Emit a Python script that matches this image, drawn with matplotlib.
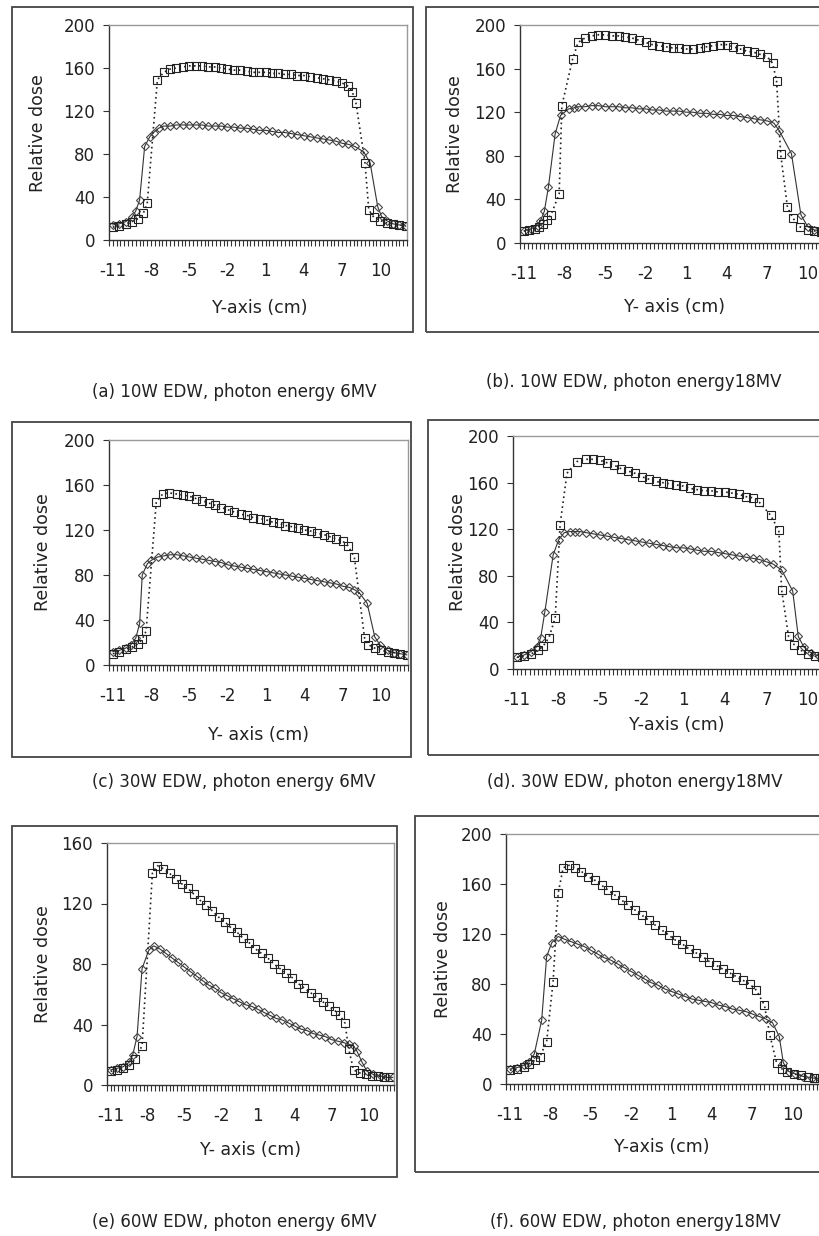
import numpy as np
import matplotlib.pyplot as plt
from matplotlib.patches import Rectangle

W, H = 819, 1236

X_TICKS = [-11, -8, -5, -2, 1, 4, 7, 10]
X_TICK_LABELS = ['-11', '-8', '-5', '-2', '1', '4', '7', '10']

# (a) 10W EDW, 6MV
a_sq_x = [-11, -10.5, -10, -9.5, -9, -8.6, -8.3, -7.5, -7, -6.5,
          -6, -5.5, -5, -4.5, -4, -3.5, -3, -2.5, -2, -1.5,
          -1, -0.5, 0, 0.5, 1, 1.5, 2, 2.5, 3, 3.5,
          4, 4.5, 5, 5.5, 6, 6.5, 7, 7.5, 7.8, 8.1,
          8.8, 9.1, 9.5, 10, 10.5, 11, 11.5, 12]
a_sq_y = [12, 13, 15, 17, 20, 25, 34, 149, 156, 159,
          160, 161, 162, 162, 162, 161, 161, 160, 159, 158,
          158, 157, 156, 156, 156, 155, 155, 154, 154, 153,
          153, 152, 151, 150, 149, 148, 146, 143, 138, 127,
          72, 28, 21, 18, 16, 15, 14, 13]
a_di_x = [-11, -10.5, -10, -9.5, -9.2, -8.9, -8.5, -8.1, -7.8, -7.4,
          -7, -6.5, -6, -5.5, -5, -4.5, -4, -3.5, -3, -2.5,
          -2, -1.5, -1, -0.5, 0, 0.5, 1, 1.5, 2, 2.5,
          3, 3.5, 4, 4.5, 5, 5.5, 6, 6.5, 7, 7.5,
          8, 8.7, 9.2, 9.8, 10.1, 10.5, 11, 11.5, 12]
a_di_y = [14, 15, 17, 21, 27, 37, 87, 96, 100, 104,
          106, 106, 107, 107, 107, 107, 107, 106, 106, 106,
          105, 105, 104, 104, 103, 102, 102, 101, 100, 100,
          99, 98, 97, 96, 95, 94, 93, 92, 90, 89,
          87, 82, 72, 31, 22, 18, 15, 14, 13]

# (b) 10W EDW, 18MV
b_sq_x = [-11, -10.6, -10.2, -9.9, -9.6, -9.3, -9.0, -8.4, -8.2, -7.4,
          -7, -6.5, -6, -5.5, -5, -4.5, -4, -3.5, -3, -2.5,
          -2, -1.5, -1, -0.5, 0, 0.5, 1, 1.5, 2, 2.5,
          3, 3.5, 4, 4.5, 5, 5.5, 6, 6.5, 7, 7.4,
          7.7, 8.0, 8.5, 8.9, 9.4, 10, 10.5, 11, 11.5, 12]
b_sq_y = [11, 12, 13, 15, 17, 21, 26, 45, 126, 169,
          184, 188, 190, 191, 191, 190, 190, 189, 188, 186,
          184, 182, 181, 180, 179, 179, 178, 178, 179, 180,
          181, 182, 182, 180, 178, 176, 175, 173, 171, 165,
          149, 82, 33, 23, 15, 12, 11, 10, 10, 9]
b_di_x = [-11, -10.5, -10, -9.8, -9.5, -9.2, -8.7, -8.3, -7.7, -7.3,
          -7, -6.5, -6, -5.5, -5, -4.5, -4, -3.5, -3, -2.5,
          -2, -1.5, -1, -0.5, 0, 0.5, 1, 1.5, 2, 2.5,
          3, 3.5, 4, 4.5, 5, 5.5, 6, 6.5, 7, 7.5,
          7.9, 8.8, 9.5, 10, 10.5, 11, 11.5, 12]
b_di_y = [11, 13, 16, 20, 29, 51, 100, 117, 123, 124,
          125, 125, 126, 126, 125, 125, 125, 124, 124, 123,
          123, 122, 122, 121, 121, 121, 120, 120, 119, 119,
          118, 118, 117, 117, 116, 115, 114, 113, 112, 110,
          103, 82, 26, 15, 12, 11, 10, 9]

# (c) 30W EDW, 6MV
c_sq_x = [-11, -10.5, -10, -9.5, -9, -8.7, -8.4, -7.6, -7.1, -6.6,
          -6, -5.5, -5, -4.5, -4, -3.5, -3, -2.5, -2, -1.5,
          -1, -0.5, 0, 0.5, 1, 1.5, 2, 2.5, 3, 3.5,
          4, 4.5, 5, 5.5, 6, 6.5, 7, 7.4, 7.9, 8.7,
          9.0, 9.5, 10, 10.5, 11, 11.5, 12]
c_sq_y = [10, 12, 14, 16, 19, 23, 30, 145, 152, 153,
          152, 151, 150, 148, 146, 144, 142, 140, 138, 136,
          134, 133, 131, 130, 129, 127, 126, 124, 123, 122,
          120, 119, 117, 116, 114, 112, 110, 106, 96, 24,
          18, 15, 13, 12, 11, 10, 9]
c_di_x = [-11, -10.5, -10, -9.6, -9.2, -8.9, -8.7, -8.3, -8.0, -7.5,
          -7, -6.5, -6, -5.5, -5, -4.5, -4, -3.5, -3, -2.5,
          -2, -1.5, -1, -0.5, 0, 0.5, 1, 1.5, 2, 2.5,
          3, 3.5, 4, 4.5, 5, 5.5, 6, 6.5, 7, 7.5,
          7.9, 8.3, 8.9, 9.5, 9.9, 10.5, 11, 11.5, 12]
c_di_y = [12, 13, 15, 18, 24, 37, 80, 90, 93, 96,
          97, 98, 98, 97, 96, 95, 94, 93, 92, 91,
          89, 88, 87, 86, 85, 84, 83, 82, 81, 80,
          79, 78, 77, 76, 75, 74, 73, 72, 70, 69,
          67, 64, 55, 25, 18, 13, 11, 10, 9]

# (d) 30W EDW, 18MV
d_sq_x = [-11, -10.5, -10, -9.5, -9.1, -8.7, -8.25, -7.9, -7.4, -6.7,
          -6, -5.5, -5, -4.5, -4, -3.5, -3, -2.5, -2, -1.5,
          -1, -0.5, 0, 0.5, 1, 1.5, 2, 2.5, 3, 3.5,
          4, 4.5, 5, 5.5, 6, 6.5, 7.3, 7.9, 8.1, 8.6,
          9.0, 9.5, 10, 10.5, 11, 11.5, 12]
d_sq_y = [10, 11, 13, 16, 20, 27, 44, 124, 168, 178,
          180, 180, 179, 177, 175, 172, 170, 168, 165, 163,
          161, 160, 159, 158, 157, 155, 154, 153, 153, 152,
          152, 151, 150, 148, 147, 143, 132, 119, 68, 28,
          21, 16, 13, 11, 10, 9, 8]
d_di_x = [-11, -10.5, -10, -9.6, -9.3, -9.0, -8.4, -8.0, -7.6, -7.2,
          -6.8, -6.5, -6, -5.5, -5, -4.5, -4, -3.5, -3, -2.5,
          -2, -1.5, -1, -0.5, 0, 0.5, 1, 1.5, 2, 2.5,
          3, 3.5, 4, 4.5, 5, 5.5, 6, 6.5, 7, 7.5,
          8.1, 8.9, 9.3, 9.7, 10.2, 10.8, 11.4, 12]
d_di_y = [10, 12, 15, 19, 27, 49, 98, 111, 117, 118,
          118, 118, 117, 116, 115, 114, 113, 112, 111, 110,
          109, 108, 107, 106, 105, 104, 104, 103, 102, 101,
          101, 100, 99, 98, 97, 96, 95, 94, 92, 90,
          85, 67, 28, 19, 14, 11, 10, 9]

# (e) 60W EDW, 6MV
e_sq_x = [-11, -10.5, -10, -9.5, -9, -8.44, -7.6, -7.2, -6.7, -6.2,
          -5.7, -5.2, -4.7, -4.2, -3.7, -3.2, -2.7, -2.2, -1.7, -1.2,
          -0.7, -0.2, 0.3, 0.8, 1.3, 1.8, 2.3, 2.8, 3.3, 3.8,
          4.3, 4.8, 5.3, 5.8, 6.3, 6.8, 7.3, 7.7, 8.1, 8.4,
          8.8, 9.3, 9.8, 10.3, 10.8, 11.3, 11.8]
e_sq_y = [9, 10, 11, 13, 17, 26, 140, 145, 143, 140,
          136, 133, 130, 126, 122, 119, 115, 111, 108, 104,
          101, 97, 94, 90, 87, 84, 80, 77, 74, 71,
          67, 64, 61, 58, 55, 52, 49, 46, 41, 24,
          10, 8, 7, 6, 6, 5, 5]
e_di_x = [-11, -10.5, -10, -9.5, -9.2, -8.85, -8.44, -7.9, -7.5, -7,
          -6.5, -6, -5.5, -5, -4.5, -4, -3.5, -3, -2.5, -2,
          -1.5, -1, -0.5, 0, 0.5, 1, 1.5, 2, 2.5, 3,
          3.5, 4, 4.5, 5, 5.5, 6, 6.5, 7, 7.5, 8,
          8.4, 8.8, 9.1, 9.5, 9.9, 10.4, 11, 11.5, 12]
e_di_y = [10, 11, 12, 15, 20, 32, 77, 89, 92, 90,
          87, 84, 81, 78, 75, 72, 69, 66, 64, 61,
          59, 57, 55, 53, 52, 50, 48, 46, 44, 43,
          41, 39, 37, 36, 34, 33, 32, 30, 29, 28,
          27, 26, 22, 15, 9, 7, 6, 5, 5]

# (f) 60W EDW, 18MV
f_sq_x = [-11, -10.5, -10, -9.6, -9.15, -8.77, -8.28, -7.8, -7.42, -7.05,
          -6.6, -6.2, -5.7, -5.2, -4.7, -4.2, -3.7, -3.2, -2.7, -2.2,
          -1.7, -1.2, -0.7, -0.2, 0.3, 0.8, 1.3, 1.8, 2.3, 2.8,
          3.3, 3.8, 4.3, 4.8, 5.3, 5.8, 6.3, 6.8, 7.3, 7.9,
          8.3, 8.8, 9.2, 9.6, 10.1, 10.6, 11.1, 11.6, 12]
f_sq_y = [11, 12, 14, 16, 19, 22, 34, 82, 153, 173,
          175, 173, 170, 166, 163, 159, 155, 151, 147, 143,
          139, 135, 131, 127, 123, 119, 115, 112, 108, 105,
          102, 98, 95, 92, 89, 86, 83, 80, 75, 63,
          39, 17, 12, 10, 8, 7, 6, 5, 5]
f_di_x = [-11, -10.5, -10, -9.6, -9.2, -8.65, -8.28, -7.9, -7.42, -7,
          -6.5, -6, -5.5, -5, -4.5, -4, -3.5, -3, -2.5, -2,
          -1.5, -1, -0.5, 0, 0.5, 1, 1.5, 2, 2.5, 3,
          3.5, 4, 4.5, 5, 5.5, 6, 6.5, 7, 7.5, 8,
          8.5, 9.0, 9.3, 9.7, 10.2, 10.8, 11.4, 12]
f_di_y = [12, 13, 15, 18, 24, 51, 102, 113, 118, 116,
          114, 112, 110, 107, 104, 101, 99, 96, 93, 90,
          87, 84, 81, 79, 76, 74, 72, 70, 68, 67,
          66, 65, 63, 62, 60, 59, 58, 56, 54, 52,
          49, 38, 17, 10, 8, 6, 5, 4]

captions = ['(a) 10W EDW, photon energy 6MV', '(b). 10W EDW, photon energy18MV',
            '(c) 30W EDW, photon energy 6MV', '(d). 30W EDW, photon energy18MV',
            '(e) 60W EDW, photon energy 6MV', '(f). 60W EDW, photon energy18MV']
xlabels = ['Y-axis (cm)', 'Y- axis (cm)', 'Y- axis (cm)',
           'Y-axis (cm)', 'Y- axis (cm)', 'Y-axis (cm)']
y_max = [200, 200, 200, 200, 160, 200]

series = [(a_sq_x, a_sq_y, a_di_x, a_di_y), (b_sq_x, b_sq_y, b_di_x, b_di_y),
          (c_sq_x, c_sq_y, c_di_x, c_di_y), (d_sq_x, d_sq_y, d_di_x, d_di_y),
          (e_sq_x, e_sq_y, e_di_x, e_di_y), (f_sq_x, f_sq_y, f_di_x, f_di_y)]

# layout in pixels: plot area, outer frame, text anchors
ax_box = [(109, 25, 407, 240), (520, 25, 836, 243),
          (109, 440, 408, 665), (513, 436, 837, 669),
          (107, 843, 394, 1085), (506, 834, 821, 1084)]
frame_box = [(12, 7, 413, 332), (426, 7, 835, 332),
             (12, 422, 411, 757), (428, 420, 835, 755),
             (12, 826, 397, 1177), (415, 816, 835, 1172)]
ylabel_pos = [(38, 133), (455, 134), (43, 552), (458, 552), (43, 964), (443, 959)]
xlabel_pos = [(260, 308), (674, 307), (258, 735), (677, 725), (250, 1150), (662, 1147)]
caption_pos = [(234, 392), (634, 382), (234, 782), (635, 782), (234, 1222), (635, 1222)]

TXT = '#222222'
plt.rcParams['font.family'] = ['DejaVu Sans']

fig = plt.figure(figsize=(W / 100, H / 100), dpi=100)


def fig_rect(l, t, r, b):
    return [l / W, 1 - b / H, (r - l) / W, (b - t) / H]


for i in range(6):
    sq_x, sq_y, di_x, di_y = series[i]
    ax = fig.add_axes(fig_rect(*ax_box[i]))
    ax.plot(di_x, di_y, '-', color='#333333', lw=0.8, marker='D', ms=4.2,
            mfc='none', mec='#444444', mew=0.8)
    ax.plot(sq_x, sq_y, linestyle=(0, (1, 2)), color='#222222', lw=1.2,
            marker='s', ms=6, mfc='none', mec='#222222', mew=0.8)
    ax.set_xlim(-11.3, 12.1)
    ax.set_ylim(0, y_max[i])
    ax.set_xticks(X_TICKS)
    ax.set_xticklabels(X_TICK_LABELS)
    ax.set_xticks(np.arange(-11.3, 12.11, 0.3), minor=True)
    ax.set_yticks(range(0, y_max[i] + 1, 40))
    ax.tick_params(axis='x', which='both', direction='out', length=4, width=0.8,
                   color='#333333', pad=12, labelsize=12, labelcolor=TXT)
    ax.tick_params(axis='y', direction='out', length=4, width=0.8,
                   color='#333333', pad=6, labelsize=12, labelcolor=TXT)
    for s in ['left', 'bottom']:
        ax.spines[s].set_color('#333333')
        ax.spines[s].set_linewidth(1.0)
    for s in ['top', 'right']:
        ax.spines[s].set_color('#999999')
        ax.spines[s].set_linewidth(1.0)

    l, t, r, b = frame_box[i]
    fig.add_artist(Rectangle((l / W, 1 - b / H), (r - l) / W, (b - t) / H,
                             transform=fig.transFigure, fill=False,
                             ec='#444444', lw=1.3))
    fig.text(ylabel_pos[i][0] / W, 1 - ylabel_pos[i][1] / H, 'Relative dose',
             rotation=90, ha='center', va='center', fontsize=12.5, color=TXT)
    fig.text(xlabel_pos[i][0] / W, 1 - xlabel_pos[i][1] / H, xlabels[i],
             ha='center', va='center', fontsize=12.5, color=TXT)
    fig.text(caption_pos[i][0] / W, 1 - caption_pos[i][1] / H, captions[i],
             ha='center', va='center', fontsize=12, color=TXT)

fig.savefig('out.png', dpi=100)
